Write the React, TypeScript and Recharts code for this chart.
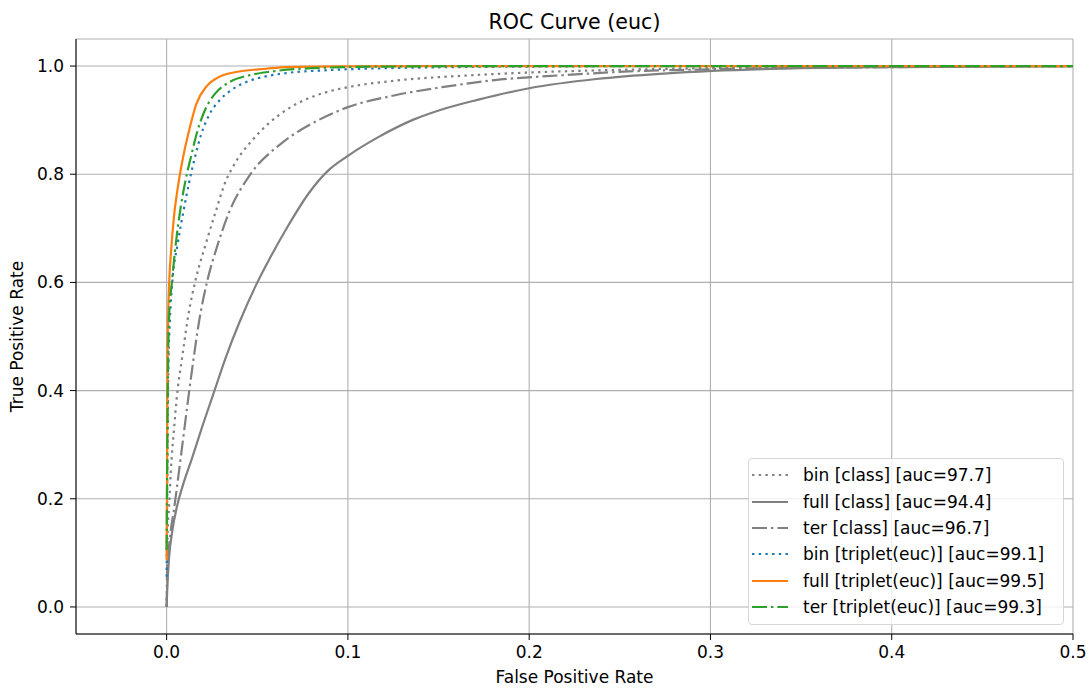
import { LineChart, Line, XAxis, YAxis, CartesianGrid } from 'recharts';

// curves, as [fpr, tpr] pairs
const binClass: number[][] = [
    [0, 0], [0.0005, 0.13], [0.0014, 0.19], [0.0023, 0.25], [0.0041, 0.33], [0.006, 0.4],
    [0.0085, 0.46], [0.012, 0.54], [0.016, 0.605], [0.0215, 0.67], [0.027, 0.73], [0.032, 0.782],
    [0.038, 0.822], [0.047, 0.862], [0.056, 0.893], [0.0665, 0.92], [0.078, 0.94], [0.0895, 0.953],
    [0.1, 0.961], [0.126, 0.973], [0.163, 0.982], [0.2, 0.988], [0.25, 0.993], [0.3, 0.996], [0.4, 0.999], [0.5, 1],
];
const fullClass: number[][] = [
    [0, 0], [0.0003, 0.03], [0.0014, 0.093], [0.0032, 0.142], [0.006, 0.19], [0.0087, 0.222],
    [0.0143, 0.278], [0.0198, 0.335], [0.0262, 0.398], [0.0327, 0.462], [0.04, 0.525],
    [0.0493, 0.595], [0.057, 0.645], [0.0676, 0.708], [0.078, 0.763], [0.0895, 0.808], [0.1, 0.834],
    [0.117, 0.869], [0.1355, 0.9], [0.154, 0.922], [0.172, 0.938], [0.2, 0.959], [0.237, 0.976],
    [0.274, 0.986], [0.301, 0.991], [0.35, 0.996], [0.4, 0.998], [0.45, 0.999], [0.5, 1],
];
const terClass: number[][] = [
    [0, 0], [0.0005, 0.068], [0.0023, 0.142], [0.004, 0.179], [0.0069, 0.253], [0.0097, 0.327],
    [0.0124, 0.398], [0.014, 0.438], [0.018, 0.53], [0.0225, 0.604], [0.028, 0.668], [0.0345, 0.73],
    [0.0456, 0.797], [0.0637, 0.858], [0.082, 0.897], [0.1, 0.924], [0.126, 0.946], [0.154, 0.962],
    [0.181, 0.974], [0.218, 0.983], [0.255, 0.99], [0.3, 0.994], [0.4, 0.998], [0.5, 1],
];
const binTriplet: number[][] = [
    [0, 0.056], [0.0005, 0.3], [0.001, 0.45], [0.0018, 0.53], [0.0032, 0.604], [0.006, 0.67],
    [0.0092, 0.73], [0.0124, 0.785], [0.0155, 0.83], [0.0189, 0.872], [0.0235, 0.91], [0.029, 0.936],
    [0.0354, 0.955], [0.0437, 0.97], [0.0548, 0.981], [0.066, 0.987], [0.09, 0.9926], [0.12, 0.996],
    [0.2, 0.999], [0.3, 1], [0.5, 1],
];
const fullTriplet: number[][] = [
    [0, 0.087], [0.0003, 0.3], [0.0005, 0.481], [0.0014, 0.599], [0.0025, 0.66], [0.004, 0.72],
    [0.006, 0.772], [0.009, 0.83], [0.0127, 0.885], [0.0164, 0.93], [0.0219, 0.962], [0.029, 0.98],
    [0.04, 0.99], [0.055, 0.995], [0.066, 0.998], [0.1, 0.9995], [0.2, 1], [0.5, 1],
];
const terTriplet: number[][] = [
    [0, 0.105], [0.0005, 0.35], [0.0008, 0.451], [0.0014, 0.54], [0.0029, 0.6], [0.005, 0.67],
    [0.0078, 0.74], [0.0105, 0.79], [0.0134, 0.832], [0.017, 0.88], [0.0216, 0.922], [0.027, 0.95],
    [0.0345, 0.97], [0.0456, 0.983], [0.058, 0.99], [0.08, 0.996], [0.12, 0.999], [0.2, 1], [0.5, 1],
];

const xTicks = [0, 0.1, 0.2, 0.3, 0.4, 0.5];
const yTicks = [0, 0.2, 0.4, 0.6, 0.8, 1.0];

const DOTTED = '2.4 4.3';
const DASHDOT = '15 4 2.4 4';

const series = [
    { name: 'bin [class] [auc=97.7]', points: binClass, color: '#808080', dash: DOTTED },
    { name: 'full [class] [auc=94.4]', points: fullClass, color: '#808080', dash: undefined },
    { name: 'ter [class] [auc=96.7]', points: terClass, color: '#808080', dash: DASHDOT },
    { name: 'bin [triplet(euc)] [auc=99.1]', points: binTriplet, color: '#1f77b4', dash: DOTTED },
    { name: 'full [triplet(euc)] [auc=99.5]', points: fullTriplet, color: '#ff7f0e', dash: undefined },
    { name: 'ter [triplet(euc)] [auc=99.3]', points: terTriplet, color: '#2ca02c', dash: DASHDOT },
];

const FONT = '"DejaVu Sans", sans-serif';
const FS = 17;
const tickStyle = { fontSize: FS, fill: '#000', fontFamily: FONT };

function RocLegend() {
    return (
        <div
            style={{
                position: 'absolute',
                left: 748,
                top: 458,
                width: 316,
                height: 167,
                border: '1px solid #d6d6d6',
                borderRadius: 4,
                background: 'rgba(255,255,255,0.8)',
                fontFamily: FONT,
                fontSize: FS,
                paddingTop: 3,
                boxSizing: 'border-box',
            }}
        >
            {series.map((s) => (
                <div key={s.name} style={{ display: 'flex', alignItems: 'center', height: 26.4 }}>
                    <svg width={54} height={10} style={{ flex: 'none' }}>
                        <line x1={3} y1={5} x2={39} y2={5} stroke={s.color} strokeWidth={2.2} strokeDasharray={s.dash} />
                    </svg>
                    <span style={{ whiteSpace: 'nowrap' }}>{s.name}</span>
                </div>
            ))}
        </div>
    );
}

export default function App() {
    return (
        <div style={{ position: 'absolute', left: 0, top: 0, width: 1089, height: 688, background: '#fff' }}>
            <div
                style={{
                    position: 'absolute',
                    left: 76,
                    width: 997,
                    top: 10,
                    textAlign: 'center',
                    fontFamily: FONT,
                    fontSize: 20.6,
                    lineHeight: '24px',
                }}
            >
                ROC Curve (euc)
            </div>
            <LineChart width={1089} height={688} margin={{ top: 39, right: 16, bottom: 0, left: 0 }}>
                <CartesianGrid stroke="#b0b0b0" strokeWidth={1.1} />
                <XAxis
                    type="number"
                    dataKey="fpr"
                    domain={[-0.05, 0.5]}
                    ticks={xTicks}
                    allowDataOverflow
                    height={54}
                    tickFormatter={(v: number) => v.toFixed(1)}
                    tick={tickStyle}
                    tickSize={6}
                    tickMargin={6}
                    stroke="#000"
                    label={{
                        value: 'False Positive Rate',
                        position: 'insideBottom',
                        offset: 5,
                        style: { fontSize: FS, fill: '#000', fontFamily: FONT },
                    }}
                />
                <XAxis
                    xAxisId="top"
                    orientation="top"
                    type="number"
                    dataKey="fpr"
                    domain={[-0.05, 0.5]}
                    height={0}
                    tick={false}
                    tickLine={false}
                    stroke="#000"
                />
                <YAxis
                    type="number"
                    domain={[-0.05, 1.05]}
                    ticks={yTicks}
                    allowDataOverflow
                    width={76}
                    tickFormatter={(v: number) => v.toFixed(1)}
                    tick={tickStyle}
                    tickSize={6}
                    tickMargin={6}
                    stroke="#000"
                    label={{
                        value: 'True Positive Rate',
                        angle: -90,
                        position: 'insideLeft',
                        offset: 17,
                        style: { fontSize: FS, fill: '#000', fontFamily: FONT, textAnchor: 'middle' },
                    }}
                />
                <YAxis
                    yAxisId="right"
                    orientation="right"
                    type="number"
                    domain={[-0.05, 1.05]}
                    width={0}
                    tick={false}
                    tickLine={false}
                    stroke="#000"
                />
                {series.map((s) => (
                    <Line
                        key={s.name}
                        data={s.points.map(([fpr, tpr]) => ({ fpr, tpr }))}
                        dataKey="tpr"
                        name={s.name}
                        type="monotone"
                        stroke={s.color}
                        strokeWidth={2.2}
                        strokeDasharray={s.dash}
                        dot={false}
                        activeDot={false}
                        isAnimationActive={false}
                    />
                ))}
            </LineChart>
            <RocLegend />
        </div>
    );
}
